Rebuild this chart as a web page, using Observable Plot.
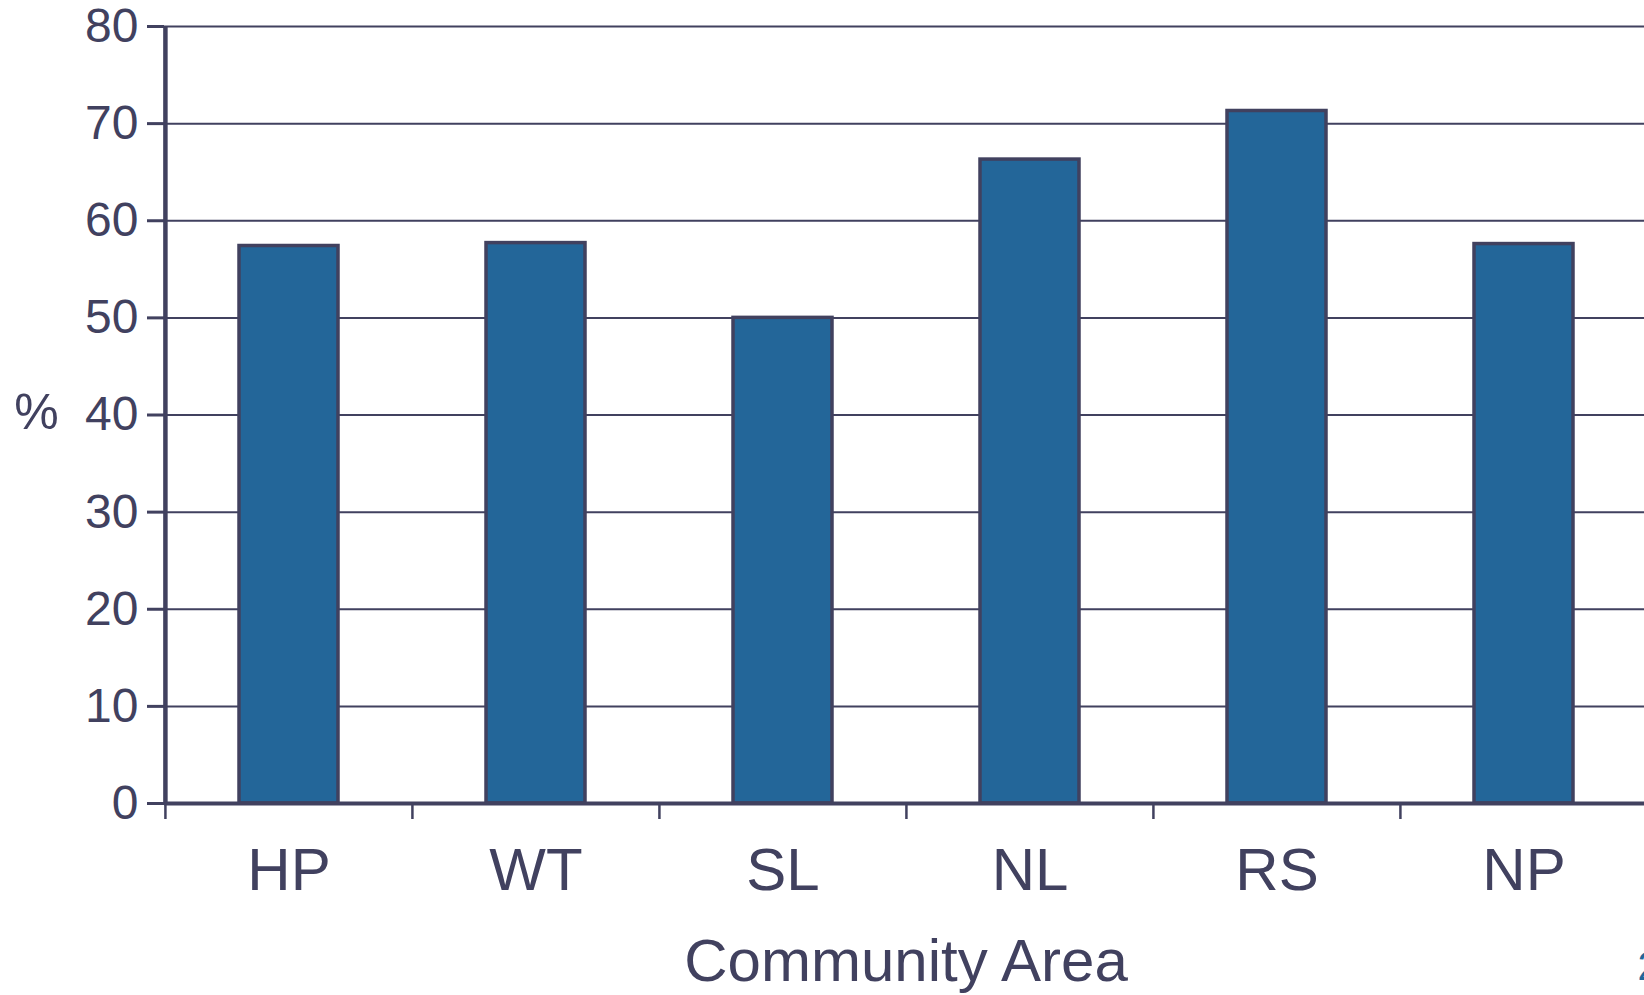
<!DOCTYPE html>
<html>
<head>
<meta charset="utf-8">
<script src="https://cdn.jsdelivr.net/npm/d3@7"></script>
<script src="https://cdn.jsdelivr.net/npm/@observablehq/plot@0.6"></script>
<style>
  html, body { margin: 0; padding: 0; background: #fff; overflow: hidden; }
  #chart svg { display: block; }
</style>
</head>
<body>
<div id="chart"></div>
<script>
const categories = ["HP", "WT", "SL", "NL", "RS", "NP"];
const values = [57.4, 57.7, 50.0, 66.3, 71.3, 57.6];
const yTicks = [0, 10, 20, 30, 40, 50, 60, 70, 80];
const yLabel = "%";
const xTitle = "Community Area";
const pageNumber = "2";

const data = categories.map((c, i) => ({area: c, value: values[i]}));

const W = 1644, H = 995;
const mL = 164, mR = -3, mT = 26, mB = 192;
const bw = (W - mL - mR) / categories.length;
const ink = "#41415f";
const barFill = "#236699";
const font = "'Liberation Sans', Arial, Helvetica, sans-serif";

const chart = Plot.plot({
  width: W,
  height: H,
  marginLeft: mL,
  marginRight: mR,
  marginTop: mT,
  marginBottom: mB,
  style: {fontFamily: font, color: ink, background: "#fff", overflow: "hidden"},
  x: {domain: categories, paddingInner: 0, paddingOuter: 0, label: null},
  y: {domain: [0, 80], label: null},
  marks: [
    Plot.ruleY(yTicks.filter(d => d !== 0), {stroke: ink, strokeWidth: 2}),
    Plot.barY(data, {x: "area", y: "value", fill: barFill, stroke: ink, strokeWidth: 3.5,
      insetLeft: 74, insetRight: 74}),
    Plot.ruleY([0], {stroke: ink, strokeWidth: 4}),
    Plot.ruleX([categories[0]], {dx: -bw / 2, y1: 0, y2: 80, stroke: ink, strokeWidth: 4.5}),
    Plot.axisY({ticks: yTicks, tickSize: 17, tickPadding: 9, fontSize: 48,
      stroke: ink, strokeWidth: 3, fill: ink, label: null}),
    Plot.axisX({ticks: categories, tickSize: 16, tickFormat: () => "", dx: -bw / 2,
      stroke: ink, strokeWidth: 2.5, label: null}),
    Plot.axisX({ticks: categories, tickSize: 0, tickPadding: 44, fontSize: 60,
      fill: ink, label: null}),
    Plot.text([yLabel], {frameAnchor: "left", dx: -128, dy: -2, fontSize: 50, fill: ink,
      textAnchor: "middle"}),
    Plot.text([xTitle], {frameAnchor: "bottom", dy: 177, lineAnchor: "bottom",
      fontSize: 60, fill: ink, textAnchor: "middle"}),
    Plot.text([pageNumber], {frameAnchor: "bottom-right", dy: 176, dx: -10,
      lineAnchor: "bottom", textAnchor: "start", fontSize: 40, fill: barFill})
  ]
});
document.getElementById("chart").appendChild(chart);
</script>
</body>
</html>
